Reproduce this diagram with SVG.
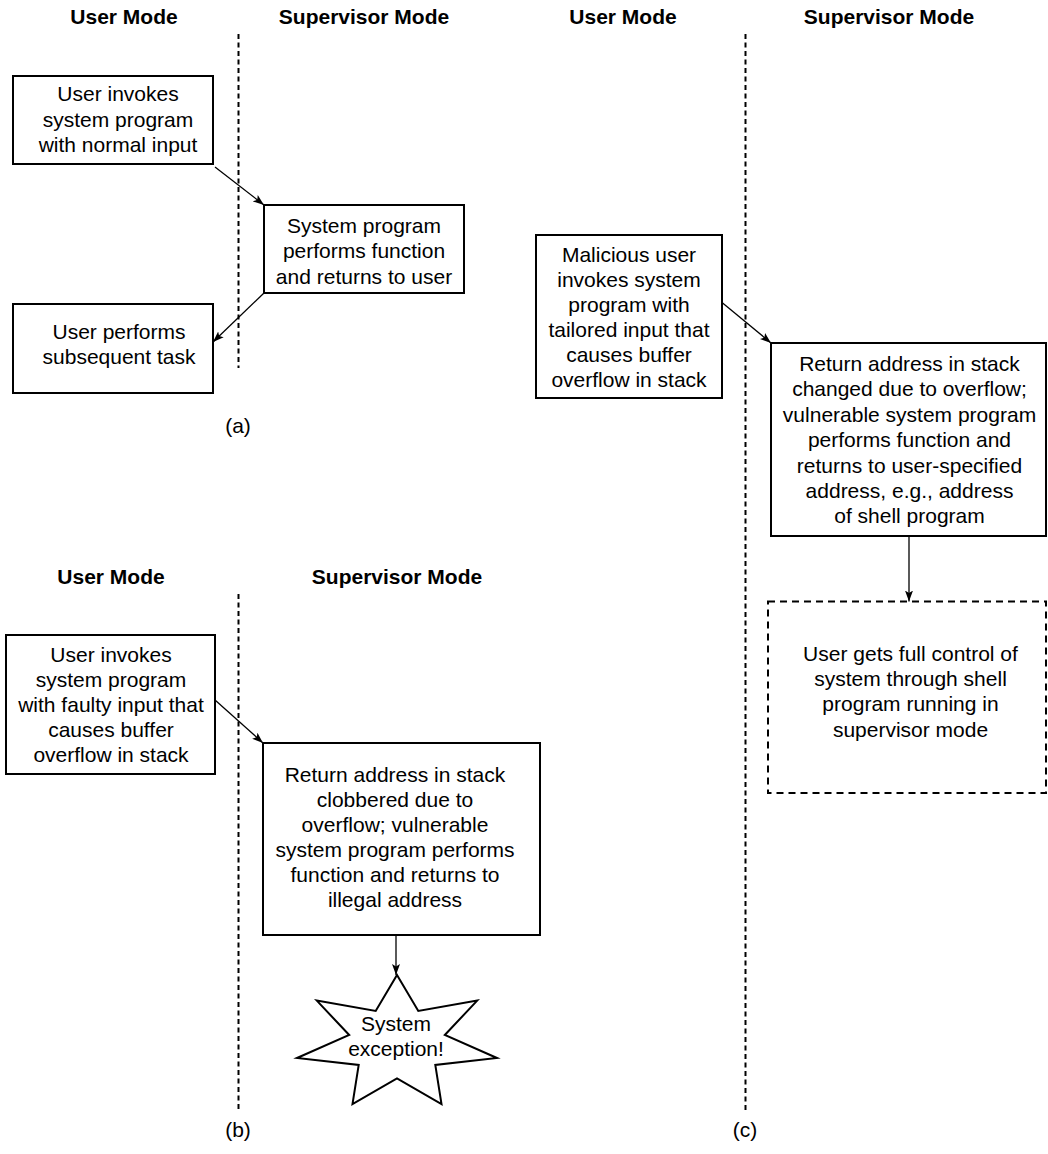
<svg xmlns="http://www.w3.org/2000/svg" width="1048" height="1154" viewBox="0 0 1048 1154">
  <style>
    .bg { fill: #ffffff; }
    .box { fill: #ffffff; stroke: #000000; stroke-width: 2; }
    .dbox { fill: #ffffff; stroke: #000000; stroke-width: 2; stroke-dasharray: 7 5; }
    .sep { stroke: #000000; stroke-width: 2; stroke-dasharray: 5 3.5; fill: none; }
    .t { font-family: "Liberation Sans", Arial, Helvetica, sans-serif; font-size: 21px; text-anchor: middle; fill: #000000; }
    .h { font-weight: bold; }
    .conn line { stroke: #000000; stroke-width: 1.3; fill: none; marker-end: url(#ah); }
    .star { fill: #ffffff; stroke: #000000; stroke-width: 2; stroke-linejoin: miter; }
  </style>
  <defs>
    <marker id="ah" markerUnits="userSpaceOnUse" markerWidth="12" markerHeight="10" refX="11" refY="4" orient="auto" viewBox="0 0 12 8">
      <path d="M0,0 L11,4 L0,8 L2.5,4 z" fill="#000000"/>
    </marker>
  </defs>
  <rect class="bg" x="0" y="0" width="1048" height="1154"/>

  <g id="headers">
    <text class="t h" x="124" y="24">User Mode</text>
    <text class="t h" x="364" y="24">Supervisor Mode</text>
    <text class="t h" x="623" y="24">User Mode</text>
    <text class="t h" x="889" y="24">Supervisor Mode</text>
    <text class="t h" x="111" y="584">User Mode</text>
    <text class="t h" x="397" y="584">Supervisor Mode</text>
  </g>

  <g id="separators">
    <line class="sep" x1="238.5" y1="34" x2="238.5" y2="368"/>
    <line class="sep" x1="745.5" y1="34" x2="745.5" y2="1112"/>
    <line class="sep" x1="238.5" y1="594" x2="238.5" y2="1110"/>
  </g>

  <g id="labels">
    <text class="t" x="238" y="433">(a)</text>
    <text class="t" x="238" y="1137">(b)</text>
    <text class="t" x="745" y="1137">(c)</text>
  </g>

  <!-- (a) -->
  <g id="a1">
    <rect class="box" x="13" y="76" width="200" height="88"/>
    <text class="t" x="118"><tspan x="118" y="101">User invokes</tspan><tspan x="118" y="126.5">system program</tspan><tspan x="118" y="152">with normal input</tspan></text>
  </g>
  <g id="a2">
    <rect class="box" x="264" y="205" width="200" height="88"/>
    <text class="t" x="364"><tspan x="364" y="232.5">System program</tspan><tspan x="364" y="258">performs function</tspan><tspan x="364" y="283.5">and returns to user</tspan></text>
  </g>
  <g id="a3">
    <rect class="box" x="13" y="304" width="200" height="89"/>
    <text class="t" x="119"><tspan x="119" y="338.5">User performs</tspan><tspan x="119" y="364">subsequent task</tspan></text>
  </g>

  <!-- (c) -->
  <g id="c1">
    <rect class="box" x="536" y="235" width="186" height="163"/>
    <text class="t" x="629"><tspan x="629" y="261.5">Malicious user</tspan><tspan x="629" y="286.5">invokes system</tspan><tspan x="629" y="311.5">program with</tspan><tspan x="629" y="336.5">tailored input that</tspan><tspan x="629" y="361.5">causes buffer</tspan><tspan x="629" y="386.5">overflow in stack</tspan></text>
  </g>
  <g id="c2">
    <rect class="box" x="771" y="343" width="275" height="193"/>
    <text class="t" x="909.5"><tspan x="909.5" y="371">Return address in stack</tspan><tspan x="909.5" y="396.4">changed due to overflow;</tspan><tspan x="909.5" y="421.8">vulnerable system program</tspan><tspan x="909.5" y="447.2">performs function and</tspan><tspan x="909.5" y="472.6">returns to user-specified</tspan><tspan x="909.5" y="498">address, e.g., address</tspan><tspan x="909.5" y="523.4">of shell program</tspan></text>
  </g>
  <g id="c3">
    <rect class="dbox" x="768" y="601.5" width="278" height="191.5"/>
    <text class="t" x="910.5"><tspan x="910.5" y="661">User gets full control of</tspan><tspan x="910.5" y="686.2">system through shell</tspan><tspan x="910.5" y="711.4">program running in</tspan><tspan x="910.5" y="736.6">supervisor mode</tspan></text>
  </g>

  <!-- (b) -->
  <g id="b1">
    <rect class="box" x="6" y="635" width="209" height="139"/>
    <text class="t" x="111"><tspan x="111" y="662">User invokes</tspan><tspan x="111" y="687">system program</tspan><tspan x="111" y="712">with faulty input that</tspan><tspan x="111" y="737">causes buffer</tspan><tspan x="111" y="762">overflow in stack</tspan></text>
  </g>
  <g id="b2">
    <rect class="box" x="263" y="743" width="277" height="192"/>
    <text class="t" x="395"><tspan x="395" y="782">Return address in stack</tspan><tspan x="395" y="807">clobbered due to</tspan><tspan x="395" y="832">overflow; vulnerable</tspan><tspan x="395" y="857">system program performs</tspan><tspan x="395" y="882">function and returns to</tspan><tspan x="395" y="907">illegal address</tspan></text>
  </g>
  <g id="b3">
    <polygon class="star" points="397,975 418.3,1011 477.2,1000.6 444.8,1035 497,1058 435.3,1065 441.5,1104.1 397,1078.3 352.5,1104.1 358.7,1065 297,1058 349.2,1035 316.8,1000.6 375.7,1011"/>
    <text class="t" x="396"><tspan x="396" y="1031">System</tspan><tspan x="396" y="1056">exception!</tspan></text>
  </g>

  <g id="connectors" class="conn">
    <line x1="215" y1="167" x2="264" y2="205"/>
    <line x1="264" y1="293" x2="213" y2="342"/>
    <line x1="722" y1="302.5" x2="771" y2="343"/>
    <line x1="909" y1="536" x2="909" y2="601.5"/>
    <line x1="215" y1="700" x2="263" y2="743"/>
    <line x1="396" y1="935" x2="396" y2="975"/>
  </g>
</svg>
